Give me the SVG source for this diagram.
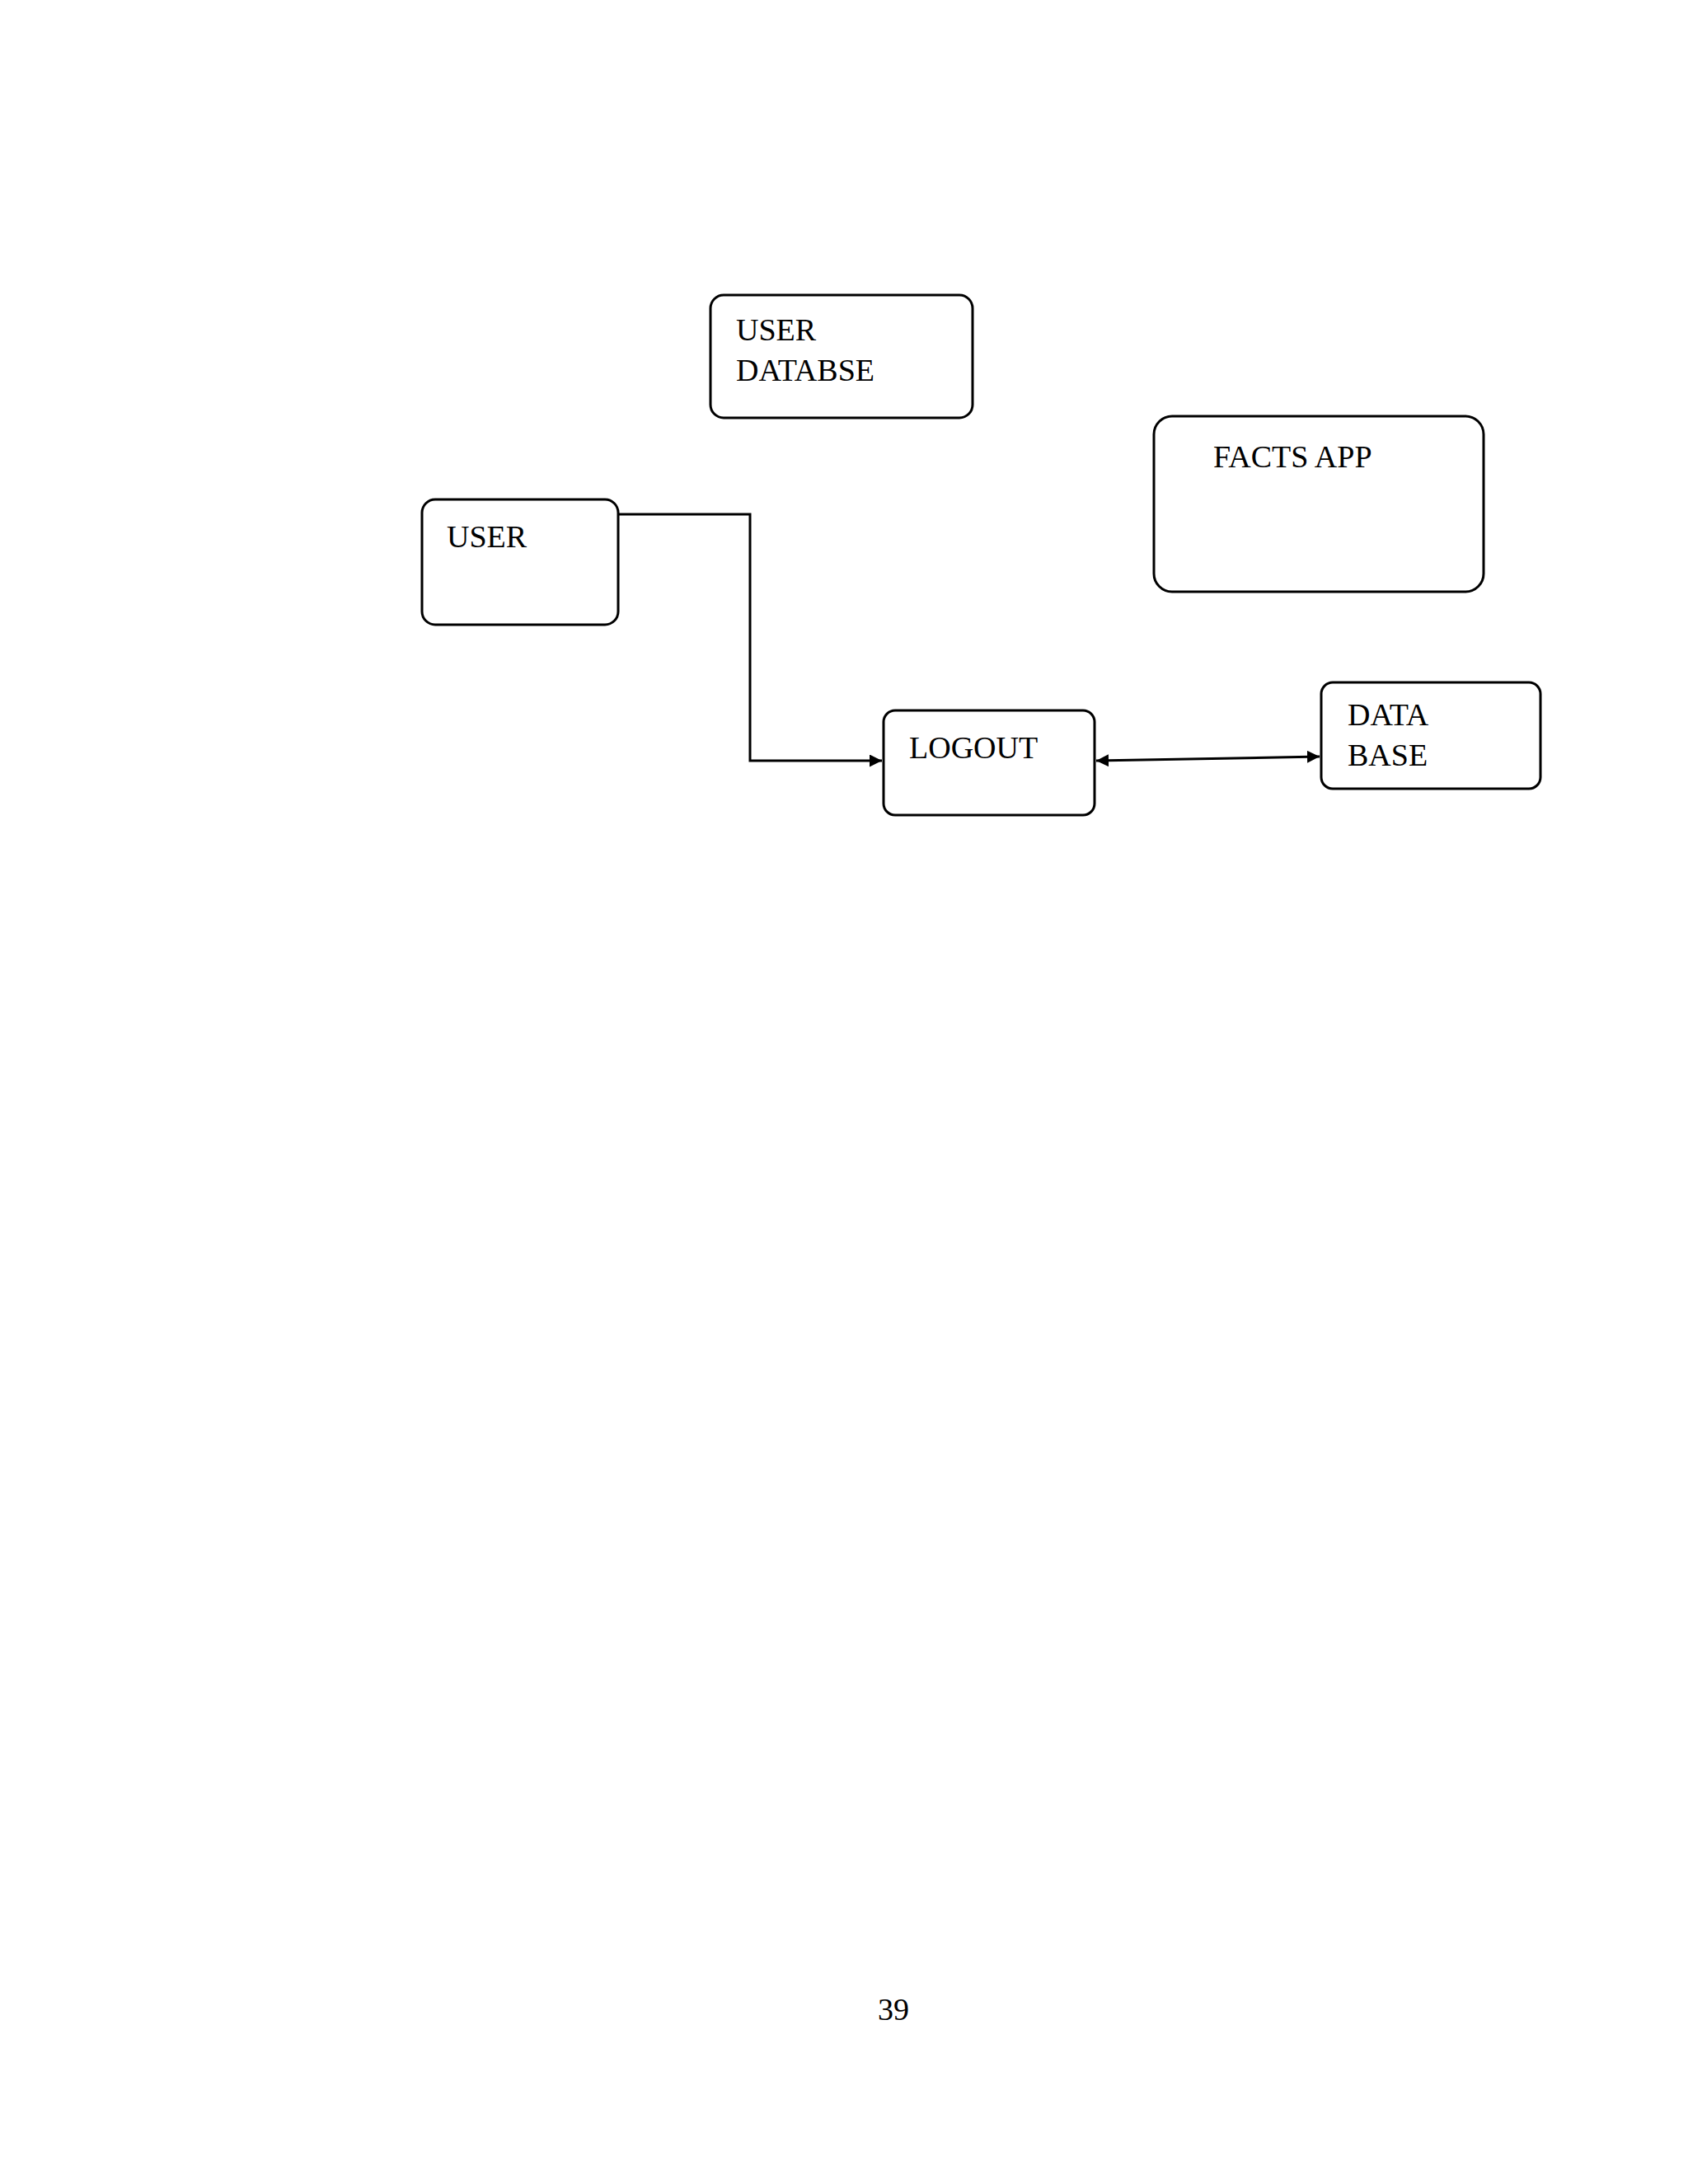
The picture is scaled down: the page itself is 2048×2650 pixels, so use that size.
<svg xmlns="http://www.w3.org/2000/svg" width="2048" height="2650" viewBox="0 0 2048 2650">
<style>
.b{fill:#fff;stroke:#000;stroke-width:3}
.t{font-family:"Liberation Serif",serif;font-size:38px;fill:#000}
.c{fill:none;stroke:#000;stroke-width:3}
</style>
<defs><marker id="a" viewBox="0 0 10 10" refX="10" refY="5" markerWidth="5" markerHeight="5" orient="auto-start-reverse"><path d="M0,0L10,5L0,10z"/></marker></defs>
<rect width="2048" height="2650" fill="#fff"/>
<g id="userdb"><rect class="b" x="862" y="358" width="318" height="149" rx="16"/><text class="t" x="893" y="413">USER</text><text class="t" x="893" y="462">DATABSE</text></g>
<g id="facts"><rect class="b" x="1400" y="505" width="400" height="213" rx="22"/><text class="t" x="1472" y="567">FACTS APP</text></g>
<g id="user"><rect class="b" x="512" y="606" width="238" height="152" rx="16"/><text class="t" x="542" y="664">USER</text></g>
<g id="logout"><rect class="b" x="1072" y="862" width="256" height="127" rx="14"/><text class="t" x="1103" y="920">LOGOUT</text></g>
<g id="database"><rect class="b" x="1603" y="828" width="266" height="129" rx="14"/><text class="t" x="1635" y="880">DATA</text><text class="t" x="1635" y="929">BASE</text></g>
<g id="connectors">
<path class="c" d="M750,624H910V923H1070" marker-end="url(#a)"/>
<path class="c" d="M1330,923L1601,918" marker-start="url(#a)" marker-end="url(#a)"/>
</g>
<text class="t" x="1084" y="2451" text-anchor="middle">39</text>
</svg>
